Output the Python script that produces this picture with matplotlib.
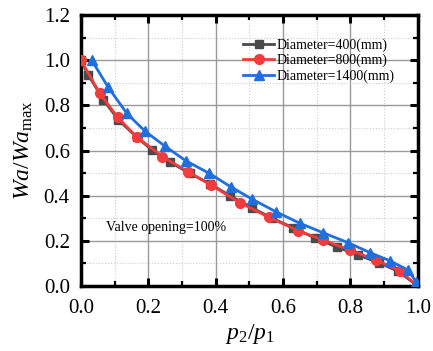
import matplotlib
matplotlib.use("Agg")
import matplotlib.pyplot as plt
from matplotlib.ticker import MultipleLocator, FormatStrFormatter

plt.rcParams['font.family'] = ['Liberation Serif', 'DejaVu Serif']
plt.rcParams['mathtext.fontset'] = 'custom'
plt.rcParams['mathtext.rm'] = 'Liberation Serif'
plt.rcParams['mathtext.it'] = 'Liberation Serif:italic'

x400 = [0, 0.022, 0.066, 0.111, 0.165, 0.212, 0.264, 0.323, 0.383, 0.442, 0.507, 0.568,
        0.630, 0.694, 0.759, 0.823, 0.885, 0.942, 1.0]
y400 = [1.0, 0.934, 0.826, 0.736, 0.660, 0.601, 0.549, 0.499, 0.453, 0.400, 0.347, 0.300,
        0.258, 0.213, 0.173, 0.137, 0.103, 0.065, 0.0]

x800 = [0, 0.056, 0.109, 0.165, 0.242, 0.318, 0.386, 0.472, 0.557, 0.645, 0.719, 0.798,
        0.877, 0.947, 1.0]
y800 = [1.0, 0.853, 0.747, 0.661, 0.573, 0.506, 0.447, 0.369, 0.305, 0.245, 0.204, 0.159,
        0.115, 0.066, 0.0]

x1400 = [0.032, 0.081, 0.136, 0.190, 0.249, 0.311, 0.381, 0.444, 0.509, 0.579, 0.650, 0.719,
         0.793, 0.858, 0.917, 0.971, 0.994]
y1400 = [1.0, 0.880, 0.765, 0.686, 0.620, 0.555, 0.499, 0.440, 0.384, 0.329, 0.278, 0.236,
         0.192, 0.148, 0.112, 0.071, 0.020]

labels = ['Diameter=400(mm)', 'Diameter=800(mm)', 'Diameter=1400(mm)']

fig = plt.figure(figsize=(4.33, 3.51), dpi=100)
ax = fig.add_axes([0.187, 0.185, 0.778, 0.772])

ax.plot(x400, y400, color='#4a4a4a', marker='s', ms=6, lw=2, label=labels[0], zorder=3)
ax.plot(x800, y800, color='#f03c3c', marker='o', ms=7, lw=2, label=labels[1], zorder=4)
ax.plot(x1400, y1400, color='#1f6fdc', marker='^', ms=7, lw=2, label=labels[2], zorder=5)

ax.set_xlim(0, 1.0)
ax.set_ylim(0, 1.2)
ax.xaxis.set_major_locator(MultipleLocator(0.2))
ax.xaxis.set_minor_locator(MultipleLocator(0.1))
ax.yaxis.set_major_locator(MultipleLocator(0.2))
ax.yaxis.set_minor_locator(MultipleLocator(0.1))
ax.xaxis.set_major_formatter(FormatStrFormatter('%.1f'))
ax.yaxis.set_major_formatter(FormatStrFormatter('%.1f'))

ax.tick_params(which='major', direction='in', length=6, width=2.2, labelsize=15,
               top=True, right=True)
ax.tick_params(axis='x', which='major', pad=9)
ax.tick_params(axis='y', which='major', pad=8)
ax.tick_params(which='minor', direction='in', length=3.5, width=1.6, top=True, right=True)
for s in ax.spines.values():
    s.set_linewidth(2.5)

ax.grid(which='major', color='#999999', lw=1, ls='-')
ax.grid(which='minor', color='#cccccc', lw=0.8, ls=':')
ax.set_axisbelow(True)

ax.set_xlabel(r'$p_2/p_1$', fontsize=17, labelpad=3)
ax.set_ylabel(r'$Wa/Wa_{\mathrm{max}}$', fontsize=17, labelpad=6)

ax.text(0.074, 0.261, 'Valve opening=100%', fontsize=10, va='center', ha='left')

ax.legend(loc='upper right', bbox_to_anchor=(0.96, 0.95), frameon=False, fontsize=10,
          handlelength=2.2, handletextpad=0.2, labelspacing=0.15, borderaxespad=0.3)

fig.savefig('out.png', dpi=100)
